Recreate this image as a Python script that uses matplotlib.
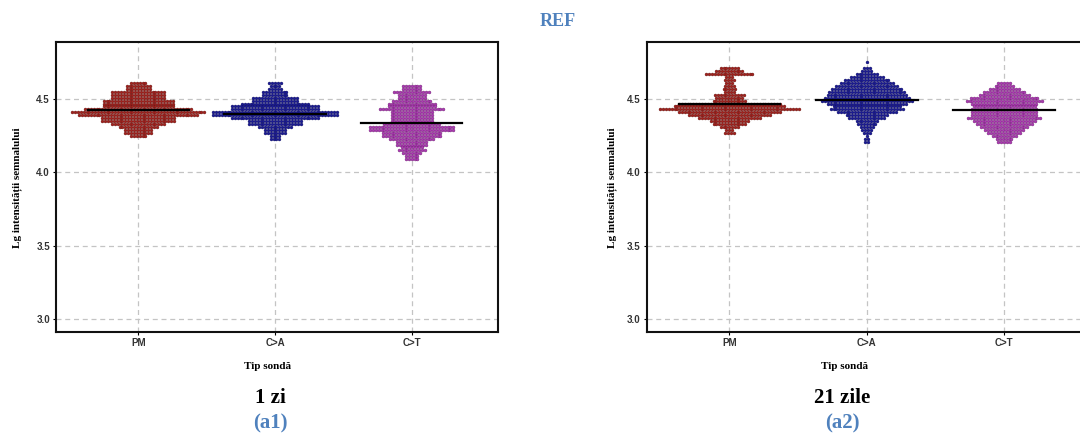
import numpy as np
from matplotlib import pyplot as plt

# categories and colours
categories = ['PM', 'C>A', 'C>T']
colors = ['#a3231f', '#1c1c96', '#ad3db3']
edges = ['#5a100d', '#0b0b55', '#641a68']

# dot plot rows: (level, number of dots)
day1_pm_levels = [4.61, 4.59, 4.57, 4.55, 4.53, 4.51, 4.49, 4.47, 4.45, 4.43,
                  4.41, 4.39, 4.37, 4.35, 4.33, 4.31, 4.29, 4.27, 4.25]
day1_pm_counts = [6, 9, 9, 19, 19, 19, 25, 25, 25, 38,
                  47, 42, 26, 26, 19, 14, 10, 10, 6]
day1_ca_levels = [4.61, 4.59, 4.57, 4.55, 4.53, 4.51, 4.49, 4.47, 4.45, 4.43,
                  4.41, 4.39, 4.37, 4.35, 4.33, 4.31, 4.29, 4.27, 4.25, 4.23]
day1_ca_counts = [5, 4, 5, 9, 9, 16, 16, 24, 31, 31,
                  44, 44, 31, 19, 19, 12, 8, 8, 4, 4]
day1_ct_levels = [4.59, 4.57, 4.55, 4.53, 4.51, 4.49, 4.47, 4.45, 4.43, 4.41,
                  4.39, 4.37, 4.35, 4.33, 4.31, 4.29, 4.27, 4.25, 4.23, 4.21,
                  4.19, 4.17, 4.15, 4.13, 4.11, 4.09]
day1_ct_counts = [7, 7, 13, 10, 10, 14, 17, 17, 23, 15,
                  15, 15, 15, 20, 30, 30, 21, 21, 16, 11,
                  11, 8, 10, 7, 5, 5]

day21_pm_levels = [4.71, 4.69, 4.67, 4.65, 4.63, 4.61, 4.59, 4.57, 4.55, 4.53,
                   4.51, 4.49, 4.47, 4.45, 4.43, 4.41, 4.39, 4.37, 4.35, 4.33,
                   4.31, 4.29, 4.27]
day21_pm_counts = [7, 10, 17, 3, 4, 3, 4, 5, 4, 11,
                   10, 12, 36, 39, 49, 36, 29, 22, 14, 12,
                   7, 3, 4]
day21_ca_levels = [4.75, 4.71, 4.69, 4.67, 4.65, 4.63, 4.61, 4.59, 4.57, 4.55,
                   4.53, 4.51, 4.49, 4.47, 4.45, 4.43, 4.41, 4.39, 4.37, 4.35,
                   4.33, 4.31, 4.29, 4.27, 4.25, 4.23, 4.21]
day21_ca_counts = [1, 3, 4, 8, 12, 16, 19, 22, 25, 27,
                   28, 30, 32, 28, 24, 26, 21, 15, 13, 8,
                   7, 5, 4, 3, 1, 2, 2]
day21_ct_levels = [4.61, 4.59, 4.57, 4.55, 4.53, 4.51, 4.49, 4.47, 4.45, 4.43,
                   4.41, 4.39, 4.37, 4.35, 4.33, 4.31, 4.29, 4.27, 4.25, 4.23,
                   4.21]
day21_ct_counts = [5, 7, 11, 15, 18, 24, 27, 23, 22, 23,
                   23, 23, 26, 22, 20, 17, 14, 12, 9, 6,
                   5]

# group means (black lines)
day1_means = [4.425, 4.40, 4.335]
day21_means = [4.465, 4.495, 4.423]

yticks = [3.0, 3.5, 4.0, 4.5]

panels = [
    ([(day1_pm_levels, day1_pm_counts), (day1_ca_levels, day1_ca_counts),
      (day1_ct_levels, day1_ct_counts)], day1_means, '1 zi', '(a1)'),
    ([(day21_pm_levels, day21_pm_counts), (day21_ca_levels, day21_ca_counts),
      (day21_ct_levels, day21_ct_counts)], day21_means, '21 zile', '(a2)'),
]

serif = 'Liberation Serif'
sans = 'Liberation Sans'
blue_txt = '#4f81bd'

fig = plt.figure(figsize=(10.8, 4.37), dpi=100)
axes_pos = [[0.052, 0.240, 0.409, 0.664], [0.599, 0.240, 0.411, 0.664]]
label_x = [0.016, 0.567]
title_x = [0.25, 0.78]
xlabel_x = [0.248, 0.782]

dx = 0.021  # horizontal dot spacing in category units

for p, (groups, means, title, tag) in enumerate(panels):
    ax = fig.add_axes(axes_pos[p])
    for i, (levels, counts) in enumerate(groups):
        xs, ys = [], []
        for lev, n in zip(levels, counts):
            off = (np.arange(n) - (n - 1) / 2) * dx
            xs.extend(i + 1 + off)
            ys.extend([lev] * n)
        ax.scatter(xs, ys, s=4.6, c=colors[i], edgecolors=edges[i],
                   linewidths=0.25, zorder=3)
        ax.plot([i + 1 - 0.37, i + 1 + 0.37], [means[i], means[i]],
                color='black', lw=1.6, zorder=4)

    ax.set_xlim(0.40, 3.63)
    ax.set_ylim(2.91, 4.89)
    ax.set_xticks([1, 2, 3])
    ax.set_xticklabels(categories)
    ax.set_yticks(yticks)
    ax.set_yticklabels(['%.1f' % t for t in yticks])
    ax.grid(True, color='#c4c4c4', linestyle=(0, (4, 3)), lw=0.9, zorder=0)
    ax.tick_params(length=2.5, width=0.8, pad=2, labelsize=7, labelcolor='#333333')
    for lab in ax.get_xticklabels() + ax.get_yticklabels():
        lab.set_fontfamily(sans)
        lab.set_fontweight('bold')
    for s in ax.spines.values():
        s.set_linewidth(1.5)
        s.set_color('#111111')

    fig.text(label_x[p], 0.57, 'Lg intensității semnalului', rotation=90,
             ha='center', va='center', family=serif, weight='bold', fontsize=8)
    fig.text(xlabel_x[p], 0.162, 'Tip sondă', ha='center', va='center',
             family=serif, weight='bold', fontsize=8)
    fig.text(title_x[p], 0.089, title, ha='center', va='center',
             family=serif, weight='bold', fontsize=15)
    fig.text(title_x[p], 0.03, tag, ha='center', va='center',
             family=serif, weight='bold', fontsize=15, color=blue_txt)

fig.text(0.516, 0.95, 'REF', ha='center', va='center', family=serif,
         weight='bold', fontsize=13, color=blue_txt)

fig.savefig('out.png', dpi=100)
